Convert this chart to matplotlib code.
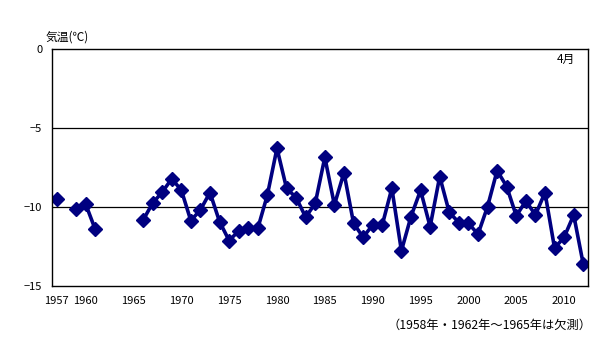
import matplotlib
matplotlib.use("Agg")
import matplotlib.pyplot as plt
import numpy as np

plt.rcParams['font.family'] = ['Noto Sans CJK JP', 'DejaVu Sans']

# April mean temperature, 1957-2012 (NaN = no observation)
years = np.arange(1957, 2013)
temps = [-9.5, np.nan, -10.15, -9.8, -11.4, np.nan, np.nan, np.nan, np.nan,
         -10.85, -9.77, -9.07, -8.23, -8.92, -10.87, -10.19, -9.09, -10.93,
         -12.13, -11.52, -11.35, -11.35, -9.24, -6.29, -8.82, -9.41, -10.65,
         -9.77, -6.86, -9.87, -7.83, -11.03, -11.92, -11.14, -11.14, -8.82,
         -12.78, -10.61, -8.95, -11.25, -8.08, -10.34, -10.99, -11.03, -11.73,
         -9.98, -7.7, -8.71, -10.57, -9.62, -10.51, -9.09, -12.61, -11.92,
         -10.51, -13.63]
tick_years = [1957, 1960, 1965, 1970, 1975, 1980, 1985, 1990, 1995, 2000, 2005, 2010]
y_ticks = [0, -5, -10, -15]

fig = plt.figure(figsize=(6.05, 3.42), dpi=100)
ax = fig.add_axes([0.086, 0.164, 0.886, 0.693])

ax.plot(years, temps, color='#000080', linewidth=2.6, marker='D',
        markersize=7.5, markerfacecolor='#000080', markeredgecolor='#000080')

ax.set_xlim(1956.5, 2012.5)
ax.set_ylim(-15, 0)
ax.set_yticks(y_ticks)
ax.set_xticks(tick_years)
ax.tick_params(axis='both', labelsize=8, length=0, pad=7)
for y in [-5, -10]:
    ax.axhline(y, color='black', linewidth=0.9, zorder=0)
for s in ax.spines.values():
    s.set_linewidth(1.0)

fig.text(0.075, 0.893, '気温(℃)', fontsize=8.5, ha='left', va='center')
ax.text(0.975, 0.985, '4月', transform=ax.transAxes, fontsize=8.5, ha='right', va='top')
fig.text(0.977, 0.05, '（1958年・1962年～1965年は欠測）', fontsize=8.8, ha='right', va='center')

fig.savefig('out.png', dpi=100)
